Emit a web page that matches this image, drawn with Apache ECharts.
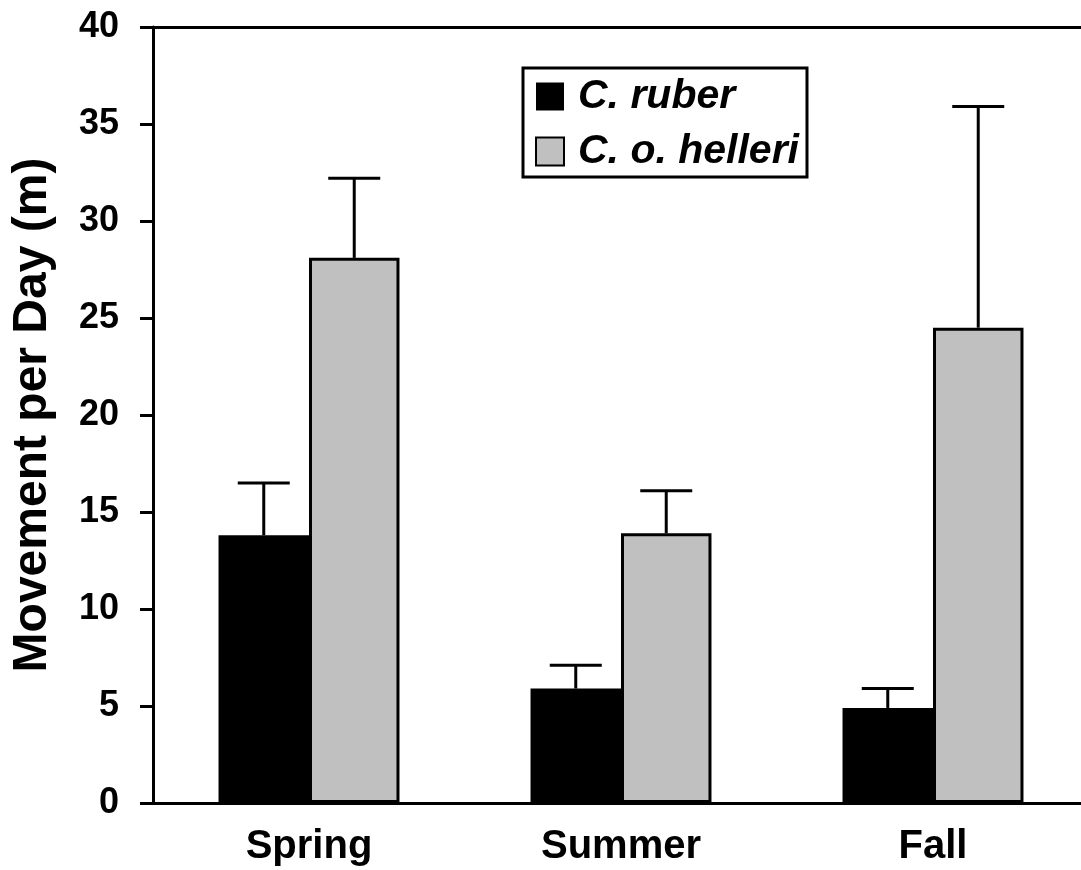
<!DOCTYPE html>
<html>
<head>
<meta charset="utf-8">
<script src="https://cdn.jsdelivr.net/npm/echarts@6/dist/echarts.min.js"></script>
<style>
  html, body { margin: 0; padding: 0; background: #fff; overflow: hidden; }
  #chart { width: 1081px; height: 870px; }
</style>
</head>
<body>
<div id="chart"></div>
<script>
const seasons = ['Spring', 'Summer', 'Fall'];
const ruberMean = [13.8, 5.9, 4.9];
const ruberUpper = [16.5, 7.1, 5.9];
const helleriMean = [28.1, 13.9, 24.5];
const helleriUpper = [32.2, 16.1, 35.9];
const yTicks = [0, 5, 10, 15, 20, 25, 30, 35, 40];

const FONT = '"Liberation Sans", Arial, Helvetica, sans-serif';
const CAT_GAP = 0.42;
const barFrac = (1 - CAT_GAP) / 2;

// error bars (upper only), offset to match each bar of the pair
function errorSeries(name, means, uppers, side) {
  return {
    type: 'custom',
    name: name + ' err',
    z: 3,
    data: seasons.map((s, i) => [i, means[i], uppers[i]]),
    renderItem: (params, api) => {
      const band = api.size([1, 0])[0];
      const dx = side * band * barFrac / 2;
      const base = api.coord([api.value(0), api.value(1)]);
      const top = api.coord([api.value(0), api.value(2)]);
      const x = base[0] + dx;
      const half = 26;
      const st = { stroke: '#000', lineWidth: 3 };
      return {
        type: 'group',
        children: [
          { type: 'line', shape: { x1: x, y1: base[1], x2: x, y2: top[1] }, style: st },
          { type: 'line', shape: { x1: x - half, y1: top[1], x2: x + half, y2: top[1] }, style: st }
        ]
      };
    }
  };
}

const chart = echarts.init(document.getElementById('chart'));
chart.setOption({
  animation: false,
  backgroundColor: '#fff',
  grid: {
    left: 153, top: 27, bottom: 67, width: 936,
    outerBoundsMode: 'none',
    containLabel: false,
    show: false
  },
  legend: {
    data: ['C. ruber', 'C. o. helleri'],
    orient: 'vertical',
    left: 523, top: 68,
    padding: [6, 8, 3, 12],
    itemGap: 10,
    itemWidth: 28, itemHeight: 28,
    icon: 'rect',
    selectedMode: false,
    borderColor: '#000', borderWidth: 3,
    textStyle: {
      fontFamily: FONT, fontSize: 41, lineHeight: 45, fontWeight: 'bold', fontStyle: 'italic',
      color: '#000', padding: [0, 0, 0, 9]
    }
  },
  xAxis: [
    {
      type: 'category',
      data: seasons,
      axisLine: { lineStyle: { color: '#000', width: 3 } },
      axisTick: { show: false },
      splitLine: { show: false },
      axisLabel: { margin: 24, fontFamily: FONT, fontSize: 40, fontWeight: 'bold', color: '#000' }
    },
    {
      // top frame line only
      type: 'category',
      position: 'top',
      data: seasons,
      axisLine: { show: true, lineStyle: { color: '#000', width: 3 } },
      axisTick: { show: false },
      splitLine: { show: false },
      axisLabel: { show: false }
    }
  ],
  yAxis: {
    type: 'value',
    min: yTicks[0], max: yTicks[yTicks.length - 1], interval: 5,
    name: 'Movement per Day (m)',
    nameLocation: 'middle',
    nameGap: 96,
    nameTextStyle: { fontFamily: FONT, fontSize: 48, fontWeight: 'bold', color: '#000' },
    axisLine: { show: true, lineStyle: { color: '#000', width: 3 } },
    axisTick: { show: true, inside: false, length: 13, lineStyle: { color: '#000', width: 3 } },
    splitLine: { show: false },
    axisLabel: { margin: 34, fontFamily: FONT, fontSize: 36, fontWeight: 'bold', color: '#000' }
  },
  series: [
    {
      name: 'C. ruber', type: 'bar', data: ruberMean,
      barGap: '0%', barCategoryGap: (CAT_GAP * 100) + '%',
      itemStyle: { color: '#000', borderColor: '#000', borderWidth: 0 }
    },
    {
      name: 'C. o. helleri', type: 'bar', data: helleriMean,
      barGap: '0%', barCategoryGap: (CAT_GAP * 100) + '%',
      itemStyle: { color: '#c0c0c0', borderColor: '#000', borderWidth: 3 }
    },
    errorSeries('C. ruber', ruberMean, ruberUpper, -1),
    errorSeries('C. o. helleri', helleriMean, helleriUpper, 1)
  ]
});
</script>
</body>
</html>
